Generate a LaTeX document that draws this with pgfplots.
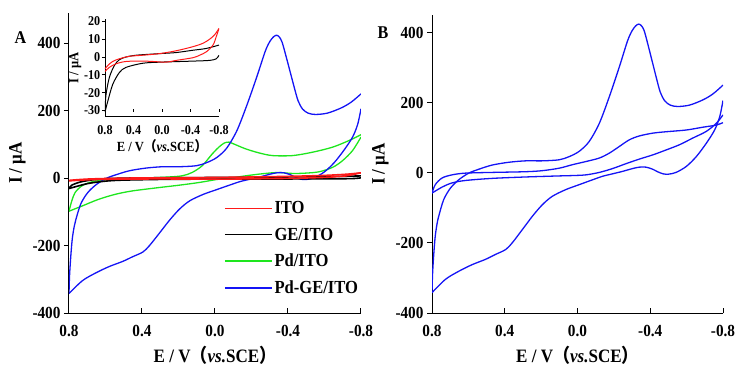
\documentclass[border=0pt]{standalone}
\usepackage{pgfplots}
\pgfplotsset{compat=1.18}
\usepackage{fontspec}
\setmainfont[FakeStretch=0.9]{Liberation Serif}
\newfontfamily\cjk[FakeStretch=0.9]{Noto Sans CJK SC}
\definecolor{cred}{RGB}{255,25,25}
\definecolor{cgreen}{RGB}{30,230,30}
\definecolor{cblue}{RGB}{20,20,245}
\newcommand{\xlab}{E / V{\cjk （}\textit{vs.}SCE{\cjk ）}}
\pgfplotsset{
  base/.style={
    scale only axis, anchor=south west, axis lines*=left,
    x dir=reverse, xmin=-0.8, xmax=0.8,
    xtick={0.8,0.4,0,-0.4,-0.8}, xticklabels={0.8,0.4,0.0,-0.4,-0.8},
    tick align=outside, major tick length=5bp,
    axis line style={line width=1bp},
    tick style={black, line width=1bp},
    xtick style={yshift=5bp},
    tick label style={font=\bfseries\fontsize{17}{17}\selectfont},
    xticklabel style={yshift=-4bp},
    label style={font=\bfseries\fontsize{19}{19}\selectfont},
    xlabel style={yshift=-2bp},
  },
  curve/.style={line width=1.3bp, smooth, tension=0.5, no marks},
}
\begin{document}
\begin{tikzpicture}
\path[use as bounding box] (0,0) rectangle (736bp,367bp);
% ---------------- Panel A ----------------
\begin{axis}[base, at={(69bp,54bp)}, width=292bp, height=300bp,
  ymin=-400, ymax=490, ytick={-400,-200,0,200,400}, yticklabels={-400,-200,0,200,400},
  xlabel={\xlab}, ylabel={I / μA},
  legend style={at={(0.52,0.385)}, anchor=north west, draw=none, fill=none,
    font=\bfseries\fontsize{18.5}{18.5}\selectfont, row sep=8.5bp},
  legend cell align=left,
  legend image code/.code={\draw[#1, line width=1.5bp] (0bp,0bp) -- (47bp,0bp);},
]
\addplot[curve, cgreen, forget plot] coordinates {
(0.8,-98) (0.785,-68) (0.767,-43) (0.730,-23) (0.675,-11) (0.602,-5) (0.455,-1) (0.272,3) (0.180,7) (0.125,17) (0.070,37) (0.015,72) (-0.021,92) (-0.050,104) (-0.076,107) (-0.105,101) (-0.168,87) (-0.241,75) (-0.315,67) (-0.425,67) (-0.534,77) (-0.644,92) (-0.736,112) (-0.800,129)};
\addplot[curve, cgreen, forget plot] coordinates {
(-0.800,122) (-0.754,82) (-0.699,52) (-0.644,32) (-0.571,19) (-0.498,15) (-0.425,14) (-0.351,17) (-0.315,16) (-0.241,12) (-0.168,7) (-0.095,1) (-0.021,-3) (0.089,-13) (0.199,-21) (0.309,-28) (0.455,-38) (0.547,-48) (0.639,-63) (0.730,-83) (0.8,-98)};
\addplot[curve, cblue, forget plot] coordinates {
(0.8,-342) (0.797,-290) (0.790,-230) (0.782,-180) (0.772,-145) (0.763,-124) (0.736,-77) (0.699,-44) (0.653,-20) (0.598,-1) (0.543,10) (0.469,22) (0.377,30) (0.285,34) (0.193,34) (0.101,37) (0.046,46) (-0.009,61) (-0.064,89) (-0.120,141) (-0.175,217) (-0.230,302) (-0.275,376) (-0.300,405) (-0.320,419) (-0.337,424) (-0.352,419) (-0.368,403) (-0.395,350) (-0.432,274) (-0.455,230) (-0.480,205) (-0.510,193) (-0.550,189) (-0.616,193) (-0.690,208) (-0.745,225) (-0.800,250)};
\addplot[curve, cblue, forget plot] coordinates {
(-0.800,206) (-0.782,160) (-0.754,122) (-0.708,84) (-0.653,46) (-0.598,18) (-0.542,1) (-0.500,-4) (-0.470,-3) (-0.440,3) (-0.414,10) (-0.377,16) (-0.340,16) (-0.303,12) (-0.248,4) (-0.193,-3) (-0.138,-10) (-0.083,-20) (-0.009,-34) (0.064,-48) (0.138,-67) (0.193,-91) (0.248,-124) (0.303,-162) (0.359,-200) (0.395,-219) (0.451,-233) (0.506,-247) (0.579,-262) (0.653,-281) (0.726,-304) (0.800,-342)};
\addplot[curve, black, line width=1.6bp, forget plot] coordinates {
(0.8,-30.8) (0.786,-21.2) (0.739,-11.5) (0.669,-4.8) (0.598,-1.5) (0.504,0) (0.364,1.0) (0.035,1.9) (-0.199,2.5) (-0.434,3.8) (-0.622,4.8) (-0.8,6.7)};
\addplot[curve, black, line width=1.6bp, forget plot] coordinates {
(-0.8,1.0) (-0.762,-1.0) (-0.669,-1.9) (-0.434,-2.3) (0.035,-2.9) (0.270,-3.5) (0.504,-5.8) (0.598,-8.7) (0.692,-15.4) (0.762,-25) (0.8,-30.8)};
\addplot[curve, cred, line width=1.6bp, forget plot] coordinates {
(0.8,-6.7) (0.762,-4.8) (0.692,-2.5) (0.598,-1.0) (0.457,0.4) (0.270,1.0) (0.035,1.9) (-0.199,3.5) (-0.434,5.8) (-0.575,7.7) (-0.669,10.0) (-0.739,12.5) (-0.8,16)};
\addplot[curve, cred, line width=1.6bp, forget plot] coordinates {
(-0.8,16) (-0.762,11.5) (-0.716,6.7) (-0.622,2.9) (-0.528,1.0) (-0.434,-0.4) (-0.199,-1.9) (-0.059,-2.9) (0.129,-2.5) (0.270,-2.3) (0.504,-2.5) (0.645,-3.8) (0.739,-5.8) (0.8,-8.1)};
\addlegendimage{cred}\addlegendentry{ITO}
\addlegendimage{black}\addlegendentry{GE/ITO}
\addlegendimage{cgreen}\addlegendentry{Pd/ITO}
\addlegendimage{cblue}\addlegendentry{Pd-GE/ITO}
\end{axis}
% ---------------- Inset ----------------
\begin{axis}[base, at={(105bp,250.3bp)}, width=114bp, height=98bp,
  ymin=-33.5, ymax=21.5, ytick={-30,-20,-10,0,10,20}, yticklabels={-30,-20,-10,0,10,20},
  major tick length=3bp, xtick style={yshift=3bp},
  axis line style={line width=0.8bp}, tick style={line width=0.8bp},
  tick label style={font=\bfseries\fontsize{13.5}{13.5}\selectfont, inner sep=1.5bp},
  xticklabel style={yshift=0bp},
  label style={font=\bfseries\fontsize{14}{14}\selectfont, inner sep=1bp},
  xlabel style={yshift=0bp},
  xlabel={\xlab}, ylabel={I / μA},
]
\addplot[curve, black, line width=1bp] coordinates {
(0.8,-30.8) (0.786,-21.2) (0.739,-11.5) (0.669,-4.8) (0.598,-1.5) (0.504,0) (0.364,1.0) (0.035,1.9) (-0.199,2.5) (-0.434,3.8) (-0.622,4.8) (-0.8,6.7)};
\addplot[curve, black, line width=1bp] coordinates {
(-0.8,1.0) (-0.762,-1.0) (-0.669,-1.9) (-0.434,-2.3) (0.035,-2.9) (0.270,-3.5) (0.504,-5.8) (0.598,-8.7) (0.692,-15.4) (0.762,-25) (0.8,-30.8)};
\addplot[curve, cred, line width=1bp] coordinates {
(0.8,-6.7) (0.762,-4.8) (0.692,-2.5) (0.598,-1.0) (0.457,0.4) (0.270,1.0) (0.035,1.9) (-0.199,3.5) (-0.434,5.8) (-0.575,7.7) (-0.669,10.0) (-0.739,12.5) (-0.8,16)};
\addplot[curve, cred, line width=1bp] coordinates {
(-0.8,16) (-0.762,11.5) (-0.716,6.7) (-0.622,2.9) (-0.528,1.0) (-0.434,-0.4) (-0.199,-1.9) (-0.059,-2.9) (0.129,-2.5) (0.270,-2.3) (0.504,-2.5) (0.645,-3.8) (0.739,-5.8) (0.8,-8.1)};
\end{axis}
% ---------------- Panel B ----------------
\begin{axis}[base, at={(432bp,54bp)}, width=291bp, height=298bp,
  ymin=-400, ymax=450, ytick={-400,-200,0,200,400}, yticklabels={-400,-200,0,200,400},
  xlabel={\xlab}, ylabel={I / μA},
]
\addplot[curve, cblue] coordinates {
(0.8,-342) (0.797,-290) (0.790,-230) (0.782,-180) (0.772,-145) (0.763,-124) (0.736,-77) (0.699,-44) (0.653,-20) (0.598,-1) (0.543,10) (0.469,22) (0.377,30) (0.285,34) (0.193,34) (0.101,37) (0.046,46) (-0.009,61) (-0.064,89) (-0.120,141) (-0.175,217) (-0.230,302) (-0.275,376) (-0.300,405) (-0.320,419) (-0.337,424) (-0.352,419) (-0.368,403) (-0.395,350) (-0.432,274) (-0.455,230) (-0.480,205) (-0.510,193) (-0.550,189) (-0.616,193) (-0.690,208) (-0.745,225) (-0.800,250)};
\addplot[curve, cblue] coordinates {
(-0.800,206) (-0.782,160) (-0.754,122) (-0.708,84) (-0.653,46) (-0.598,18) (-0.542,1) (-0.500,-4) (-0.470,-3) (-0.440,3) (-0.414,10) (-0.377,16) (-0.340,16) (-0.303,12) (-0.248,4) (-0.193,-3) (-0.138,-10) (-0.083,-20) (-0.009,-34) (0.064,-48) (0.138,-67) (0.193,-91) (0.248,-124) (0.303,-162) (0.359,-200) (0.395,-219) (0.451,-233) (0.506,-247) (0.579,-262) (0.653,-281) (0.726,-304) (0.800,-342)};
\addplot[curve, cblue] coordinates {
(0.8,-58) (0.782,-34) (0.745,-15) (0.690,-6) (0.616,-1) (0.469,1) (0.285,3) (0.193,6) (0.101,13) (0.028,23) (-0.046,32) (-0.120,42) (-0.175,56) (-0.230,75) (-0.285,94) (-0.340,105) (-0.414,113) (-0.487,117) (-0.598,122) (-0.690,130) (-0.763,136) (-0.800,143)};
\addplot[curve, cblue] coordinates {
(-0.800,165) (-0.763,141) (-0.708,118) (-0.634,99) (-0.561,80) (-0.487,65) (-0.414,51) (-0.340,39) (-0.267,26) (-0.193,12) (-0.120,1) (-0.046,-6) (0.028,-8) (0.101,-9) (0.285,-12) (0.469,-16) (0.616,-22) (0.690,-29) (0.745,-41) (0.8,-58)};
\end{axis}
\node[font=\bfseries\fontsize{18}{18}\selectfont] at (20.5bp,329.5bp) {A};
\node[font=\bfseries\fontsize{18}{18}\selectfont] at (383bp,334bp) {B};
\end{tikzpicture}
\end{document}
